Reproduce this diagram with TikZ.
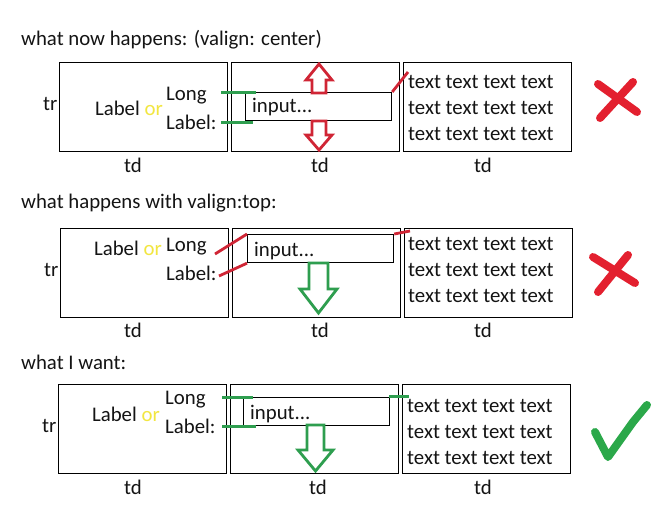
\documentclass[tikz,border=0pt]{standalone}
\usepackage{fontspec}
\setmainfont{Carlito}
\usetikzlibrary{calc}
\definecolor{mkred}{HTML}{D02535}
\definecolor{xred}{HTML}{E3202F}
\definecolor{mkgreen}{HTML}{2E9E4F}
\definecolor{ckgreen}{HTML}{2BA84A}
\definecolor{oryel}{HTML}{F2E640}
\begin{document}
\begin{tikzpicture}[x=1pt,y=-1pt,
  every node/.style={font=\fontsize{20.8}{25}\selectfont, inner sep=0pt, text=black!92},
  cell/.style={draw, line width=1.2pt, minimum width=168pt, minimum height=89pt, anchor=north west},
  inbox/.style={draw, line width=1.2pt, minimum width=146pt, minimum height=28pt, anchor=north west},
  txt/.style={anchor=west},
  lines3/.style={anchor=west, align=left, font=\fontsize{20.8}{25.6}\selectfont},
  gmark/.style={draw=mkgreen, line width=3pt},
  rmark/.style={draw=mkred, line width=2.8pt},
  blockred/.style={draw=mkred, line width=2.8pt, line join=miter},
  blockgreen/.style={draw=mkgreen, line width=2.8pt, line join=miter},
  bigx/.style={draw=xred, line width=8pt, line cap=round},
  bigcheck/.style={draw=ckgreen, line width=8pt, line cap=round, line join=round}]
\useasboundingbox[fill=white] (0,0) rectangle (671,506);

% ---------------- Panel 1 ----------------
\node[txt] (t1) at (21,40) {what now happens: (valign: center)};
\node[cell] (a1) at (59,62) {};
\node[cell] (b1) at (231,62) {};
\node[cell] (c1) at (403,62) {};
\node[txt] (tr1) at (43,104) {tr};
\node (d1a) at (133,165) {td};
\node (d1b) at (320,165) {td};
\node (d1c) at (483,165) {td};
\node[anchor=east] (lo1) at (163,108) {Label \textcolor{oryel}{or}};
\node[txt] (lg1) at (166,96) {Long};
\node[txt] (lb1) at (166,122) {Label:};
\node[inbox] (in1) at (245,92) {};
\node[txt] (it1) at (252,107) {input...};
\node[lines3] (tx1) at (408,108) {text text text text\\text text text text\\text text text text};
\draw[gmark] ($(in1.north west)+(-24,0)$) -- ($(in1.north west)+(11,0)$);
\draw[gmark] ($(in1.south west)+(-24,1)$) -- ($(in1.south west)+(8,1)$);
\draw[rmark] (in1.north east) -- (408,72);
\draw[blockred] (319,64) -- (332,80) -- (326,80) -- (326,93) -- (312,93) -- (312,80) -- (306,80) -- cycle;
\draw[blockred] (312,121) -- (326,121) -- (326,135) -- (332,135) -- (319,150) -- (306,135) -- (312,135) -- cycle;
\draw[bigx] (598,84) -- (637,112);
\draw[bigx] (600,118) -- (633,82);

% ---------------- Panel 2 ----------------
\node[txt] (t2) at (21,203) {what happens with valign:top:};
\node[cell] (a2) at (60,228) {};
\node[cell] (b2) at (232,228) {};
\node[cell] (c2) at (404,228) {};
\node[txt] (tr2) at (44,270) {tr};
\node (d2a) at (133,330) {td};
\node (d2b) at (320,330) {td};
\node (d2c) at (483,330) {td};
\node[anchor=east] (lo2) at (162,248) {Label \textcolor{oryel}{or}};
\node[txt] (lg2) at (166,247) {Long};
\node[txt] (lb2) at (166,273) {Label:};
\node[inbox] (in2) at (247,234) {};
\node[txt] (it2) at (254,251) {input...};
\node[lines3] (tx2) at (408,270) {text text text text\\text text text text\\text text text text};
\draw[rmark] (215,254) -- (in2.north west);
\draw[rmark] (219,276) -- (in2.south west);
\draw[rmark] (in2.north east) -- (410,231);
\draw[blockgreen] (309,263) -- (328,263) -- (328,289) -- (337,289) -- (318.5,313) -- (300,289) -- (309,289) -- cycle;
\draw[bigx] (593,257) -- (635,283);
\draw[bigx] (598,292) -- (628,255);

% ---------------- Panel 3 ----------------
\node[txt] (t3) at (21,362) {what I want:};
\node[cell] (a3) at (58,384) {};
\node[cell] (b3) at (230,384) {};
\node[cell] (c3) at (402,384) {};
\node[txt] (tr3) at (42,426) {tr};
\node (d3a) at (133,487) {td};
\node (d3b) at (318,487) {td};
\node (d3c) at (483,487) {td};
\node[anchor=east] (lo3) at (160,414) {Label \textcolor{oryel}{or}};
\node[txt] (lg3) at (165,400) {Long};
\node[txt] (lb3) at (165,426) {Label:};
\node[inbox] (in3) at (243,397) {};
\node[txt] (it3) at (250,414) {input...};
\node[lines3] (tx3) at (407,432) {text text text text\\text text text text\\text text text text};
\draw[gmark] ($(in3.north west)+(-21,0)$) -- ($(in3.north west)+(10,0)$);
\draw[gmark] ($(in3.south west)+(-21,0)$) -- ($(in3.south west)+(13,0)$);
\draw[gmark] ($(in3.north east)+(-1,-1)$) -- (409,396);
\draw[blockgreen] (307,425) -- (324,425) -- (324,450) -- (333,450) -- (315.5,471) -- (298,450) -- (307,450) -- cycle;
\draw[bigcheck] (595,432) -- (608,457) -- (633,422) -- (647,405);
\end{tikzpicture}
\end{document}
